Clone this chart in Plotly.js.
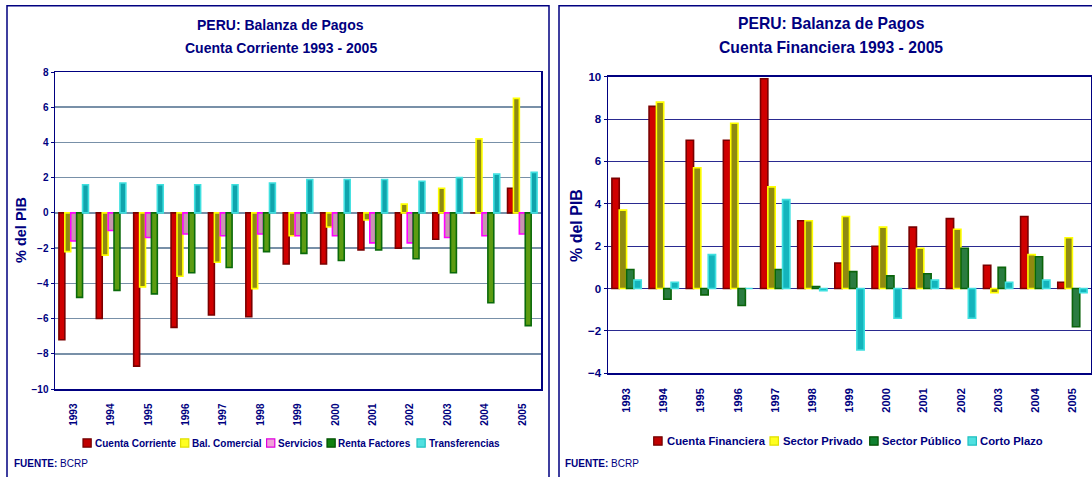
<!DOCTYPE html>
<html>
<head>
<meta charset="utf-8">
<script src="https://cdn.plot.ly/plotly-3.0.1.min.js"></script>
<style>html,body{margin:0;padding:0;background:#fff;}#chart{width:1092px;height:477px;}</style>
</head>
<body>
<div id="chart"></div>
<script>
// ---- Data ----
var years = ['1993','1994','1995','1996','1997','1998','1999','2000','2001','2002','2003','2004','2005'];

// Left panel: Cuenta Corriente (% del PIB)
var cuentaCorriente = [-7.2,-6.0,-8.7,-6.5,-5.8,-5.9,-2.9,-2.9,-2.1,-2.0,-1.5,0.0,1.4];
var balComercial    = [-2.2,-2.4,-4.2,-3.6,-2.8,-4.3,-1.3,-0.8,-0.4,0.5,1.4,4.2,6.5];
var servicios       = [-1.6,-1.0,-1.4,-1.2,-1.3,-1.2,-1.3,-1.3,-1.7,-1.7,-1.4,-1.3,-1.2];
var rentaFactores   = [-4.8,-4.4,-4.6,-3.4,-3.1,-2.2,-2.3,-2.7,-2.1,-2.6,-3.4,-5.1,-6.4];
var transferencias  = [1.6,1.7,1.6,1.6,1.6,1.7,1.9,1.9,1.9,1.8,2.0,2.2,2.3];

// Right panel: Cuenta Financiera (% del PIB)
var cuentaFinanciera = [5.2,8.6,7.0,7.0,9.9,3.2,1.2,2.0,2.9,3.3,1.1,3.4,0.3];
var sectorPrivado    = [3.7,8.8,5.7,7.8,4.8,3.2,3.4,2.9,1.9,2.8,-0.2,1.6,2.4];
var sectorPublico    = [0.9,-0.5,-0.3,-0.8,0.9,0.1,0.8,0.6,0.7,1.9,1.0,1.5,-1.8];
var cortoPlazo       = [0.4,0.3,1.6,0.0,4.2,-0.1,-2.9,-1.4,0.4,-1.4,0.3,0.4,-0.2];

var leftNames  = ['Cuenta Corriente','Bal. Comercial','Servicios','Renta Factores','Transferencias'];
var rightNames = ['Cuenta Financiera','Sector Privado','Sector Público','Corto Plazo'];
var leftSeries  = [cuentaCorriente, balComercial, servicios, rentaFactores, transferencias];
var rightSeries = [cuentaFinanciera, sectorPrivado, sectorPublico, cortoPlazo];

var leftRange = [-10, 8];
var rightRange = [-4, 10];

// ---- Styling ----
var NAVY = '#000080';
var FONT = 'Liberation Sans, Arial, sans-serif';

var leftFill  = ['#d00000', '#8f8a10', '#c896b0', '#5c9c12', '#10a4ac'];
var leftEdge  = ['#7a0000', '#ffff00', '#ff00ff', '#0a6a0a', '#40e0e0'];
var leftSwatch = ['#c00000', '#ffff20', '#f0a0d8', '#108010', '#50e0e0'];
var rightFill = ['#d00000', '#8f8a10', '#2a7c40', '#14b4bc'];
var rightEdge = ['#7a0000', '#ffff00', '#0a640a', '#40e0e0'];
var rightSwatch = ['#c00000', '#ffff20', '#108030', '#50e0e0'];

var W = 1092, H = 477;
function px(x){ return x / W; }
function py(y){ return 1 - y / H; }

var leftDomX = [px(55), px(541)], leftDomY = [py(389), py(72)];
var rightDomX = [px(608), px(1091)], rightDomY = [py(373.3), py(76.7)];

function zeroPos(dom, range){ return dom[0] + (0 - range[0]) / (range[1] - range[0]) * (dom[1] - dom[0]); }

var data = [];
leftNames.forEach(function(n, i){
  data.push({type: 'bar', name: n, x: years, y: leftSeries[i], xaxis: 'x', yaxis: 'y', showlegend: false,
    marker: {color: leftFill[i], line: {color: leftEdge[i], width: 1.6}}});
});
rightNames.forEach(function(n, i){
  data.push({type: 'bar', name: n, x: years, y: rightSeries[i], xaxis: 'x2', yaxis: 'y2', showlegend: false,
    marker: {color: rightFill[i], line: {color: rightEdge[i], width: 1.6}}});
});

var tickFontL = {family: FONT, size: 10, color: NAVY, weight: 'bold'};
var tickFontRy = {family: FONT, size: 11.5, color: NAVY, weight: 'bold'};
var tickFontRx = {family: FONT, size: 11, color: NAVY, weight: 'bold'};

// legend layout (pixel positions of swatches and labels)
var leftLegSw = [83, 180.6, 266.6, 327, 417], leftLegTx = [94, 191, 277, 337.4, 428], leftLegY = 443;
var rightLegSw = [653.7, 770, 869.7, 968], rightLegTx = [665.8, 781.6, 881, 978.6], rightLegY = 441;

var shapes = [
  {type: 'rect', xref: 'paper', yref: 'paper', x0: px(7), x1: px(549), y0: -0.05, y1: py(5.7),
   line: {color: NAVY, width: 1.5}, fillcolor: 'rgba(0,0,0,0)', layer: 'below'},
  {type: 'rect', xref: 'paper', yref: 'paper', x0: px(559), x1: 1.05, y0: -0.05, y1: py(5.7),
   line: {color: NAVY, width: 1.5}, fillcolor: 'rgba(0,0,0,0)', layer: 'below'}
];
var annotations = [];
function title(t, x, y, s){
  annotations.push({text: t, xref: 'paper', yref: 'paper', x: px(x), y: py(y), xanchor: 'center', yanchor: 'middle',
    showarrow: false, font: {family: FONT, size: s, color: NAVY, weight: 'bold'}});
}
title('PERU: Balanza de Pagos', 280.5, 25, 14);
title('Cuenta Corriente 1993 - 2005', 280.5, 48, 14);
title('PERU: Balanza de Pagos', 831, 24, 15.7);
title('Cuenta Financiera 1993 - 2005', 831, 47.5, 15.7);
annotations.push({text: '% del PIB', xref: 'paper', yref: 'paper', x: px(21), y: py(230), xanchor: 'center', yanchor: 'middle',
  textangle: -90, showarrow: false, font: {family: FONT, size: 14.5, color: NAVY, weight: 'bold'}});
annotations.push({text: '% del PIB', xref: 'paper', yref: 'paper', x: px(576), y: py(226), xanchor: 'center', yanchor: 'middle',
  textangle: -90, showarrow: false, font: {family: FONT, size: 16, color: NAVY, weight: 'bold'}});
annotations.push({text: '<b>FUENTE:</b> BCRP', xref: 'paper', yref: 'paper', x: px(12), y: py(463), xanchor: 'left', yanchor: 'middle',
  showarrow: false, font: {family: FONT, size: 10, color: NAVY}});
annotations.push({text: '<b>FUENTE:</b> BCRP', xref: 'paper', yref: 'paper', x: px(563), y: py(463), xanchor: 'left', yanchor: 'middle',
  showarrow: false, font: {family: FONT, size: 10, color: NAVY}});

function legendItems(names, sw, tx, yc, swCol, edCol, size, fs){
  names.forEach(function(n, i){
    shapes.push({type: 'rect', xref: 'paper', yref: 'paper', x0: px(sw[i]), x1: px(sw[i] + size),
      y0: py(yc + size / 2), y1: py(yc - size / 2), fillcolor: swCol[i], line: {color: edCol[i], width: 1.2}});
    annotations.push({text: n, xref: 'paper', yref: 'paper', x: px(tx[i]), y: py(yc), xanchor: 'left', yanchor: 'middle',
      showarrow: false, xshift: -1, font: {family: FONT, size: fs, color: NAVY, weight: 'bold'}});
  });
}
legendItems(leftNames, leftLegSw, leftLegTx, leftLegY, leftSwatch, ['#700000','#e0e000','#e000e0','#005000','#20c0c0'], 8.2, 10);
legendItems(rightNames, rightLegSw, rightLegTx, rightLegY, rightSwatch, ['#700000','#e0e000','#005000','#20c0c0'], 8.4, 11.3);

var layout = {
  width: W, height: H,
  margin: {l: 0, r: 0, t: 0, b: 0},
  paper_bgcolor: '#ffffff', plot_bgcolor: '#ffffff',
  barmode: 'group', bargap: 0.21, bargroupgap: 0,
  showlegend: false,
  font: {family: FONT, color: NAVY},
  xaxis: {
    domain: leftDomX, anchor: 'y', type: 'category', tickangle: -90,
    tickfont: tickFontL, showgrid: false, ticks: '', ticklabelstandoff: 9,
    showline: true, mirror: true, linecolor: NAVY, linewidth: 1.5, fixedrange: true
  },
  yaxis: {
    domain: leftDomY, anchor: 'x', range: leftRange, dtick: 2, tickfont: tickFontL,
    showgrid: true, gridcolor: '#7890a8', gridwidth: 1.5, zeroline: false,
    showline: true, mirror: true, linecolor: NAVY, linewidth: 1.5,
    ticks: 'outside', ticklen: 3, tickcolor: NAVY, fixedrange: true
  },
  xaxis3: {
    overlaying: 'x', matches: 'x', anchor: 'free', position: zeroPos(leftDomY, leftRange),
    type: 'category', showticklabels: false, showgrid: false, ticks: 'outside', tickson: 'boundaries',
    ticklen: 4, tickcolor: '#1a1a3a', showline: true, linecolor: '#1a1a3a', linewidth: 1.2
  },
  xaxis2: {
    domain: rightDomX, anchor: 'y2', type: 'category', tickangle: -90,
    tickfont: tickFontRx, showgrid: false, ticks: '', ticklabelstandoff: 9,
    showline: true, mirror: true, linecolor: NAVY, linewidth: 1.5, fixedrange: true
  },
  yaxis2: {
    domain: rightDomY, anchor: 'x2', range: rightRange, dtick: 2, tickfont: tickFontRy,
    showgrid: true, gridcolor: '#2a2a90', gridwidth: 1, zeroline: false,
    showline: true, mirror: true, linecolor: NAVY, linewidth: 1.5,
    ticks: 'outside', ticklen: 3, tickcolor: NAVY, fixedrange: true
  },
  xaxis4: {
    overlaying: 'x2', matches: 'x2', anchor: 'free', position: zeroPos(rightDomY, rightRange),
    type: 'category', showticklabels: false, showgrid: false, ticks: 'outside', tickson: 'boundaries',
    ticklen: 4, tickcolor: NAVY, showline: true, linecolor: NAVY, linewidth: 1.2
  },
  shapes: shapes,
  annotations: annotations
};

Plotly.newPlot('chart', data, layout, {displayModeBar: false, staticPlot: true});
</script>
</body>
</html>
